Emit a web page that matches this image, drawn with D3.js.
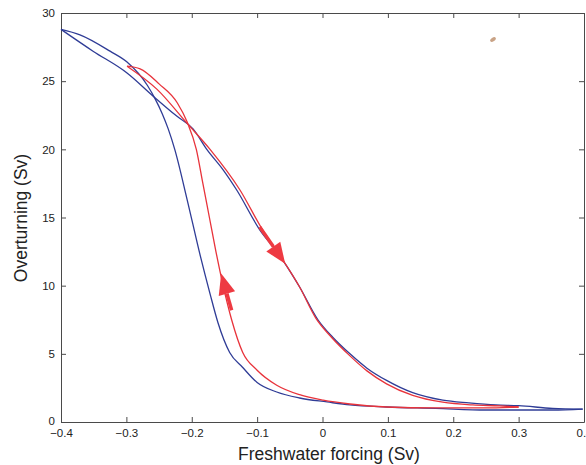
<!DOCTYPE html>
<html>
<head>
<meta charset="utf-8">
<script src="https://cdn.jsdelivr.net/npm/d3@7"></script>
<style>
  body { margin: 0; background: #fff; }
  text { font-family: "Liberation Sans", Arial, sans-serif; fill: #222; }
</style>
</head>
<body>
<div class="chart"></div>
<script>
// values
var xTicks = [-0.4, -0.3, -0.2, -0.1, 0, 0.1, 0.2, 0.3, 0.4];
var xTickLabels = ["\u22120.4", "\u22120.3", "\u22120.2", "\u22120.1", "0", "0.1", "0.2", "0.3", "0.4"];
var yTicks = [0, 5, 10, 15, 20, 25, 30];
var yTickLabels = ["0", "5", "10", "15", "20", "25", "30"];

// blue run, forcing increased (upper branch)
var blueDownX = [-0.4, -0.351, -0.299, -0.259, -0.222, -0.198, -0.177, -0.152, -0.131, -0.096, -0.07, -0.057, -0.035, -0.007, 0.016, 0.042, 0.068, 0.098, 0.138, 0.184, 0.224, 0.265, 0.3, 0.352, 0.398];
var blueDownY = [28.8, 27.2, 25.6, 23.9, 22.4, 21.5, 20.0, 18.5, 17.0, 14.1, 12.5, 11.6, 9.9, 7.5, 6.2, 5.0, 3.95, 3.05, 2.15, 1.6, 1.4, 1.25, 1.2, 1.0, 0.95];
// blue run, forcing decreased (lower branch)
var blueUpX = [0.398, 0.352, 0.3, 0.25, 0.173, 0.098, 0.042, 0.007, -0.035, -0.07, -0.1, -0.122, -0.142, -0.16, -0.172, -0.187, -0.207, -0.226, -0.236, -0.245, -0.256, -0.268, -0.299, -0.325, -0.371, -0.4];
var blueUpY = [0.95, 0.88, 0.88, 0.88, 1.0, 1.1, 1.25, 1.47, 1.76, 2.2, 2.9, 4.0, 5.1, 7.3, 9.4, 12.2, 16.3, 20.0, 21.5, 22.6, 23.7, 24.7, 26.4, 27.2, 28.4, 28.8];

// red run, forcing increased
var redDownX = [-0.299, -0.253, -0.207, -0.172, -0.126, -0.093, -0.065, -0.035, -0.01, 0.014, 0.042, 0.068, 0.098, 0.138, 0.184, 0.23, 0.271, 0.3];
var redDownY = [26.1, 24.4, 21.9, 20.0, 17.0, 14.2, 12.2, 9.9, 7.6, 6.2, 4.85, 3.75, 2.8, 1.95, 1.45, 1.25, 1.18, 1.1];
// red run, forcing decreased
var redUpX = [0.3, 0.25, 0.173, 0.098, 0.042, 0.001, -0.035, -0.07, -0.1, -0.122, -0.139, -0.152, -0.163, -0.173, -0.183, -0.193, -0.207, -0.222, -0.25, -0.279, -0.299];
var redUpY = [1.1, 1.03, 1.03, 1.1, 1.32, 1.6, 2.0, 2.7, 3.8, 5.1, 7.5, 10.0, 12.5, 15.0, 17.5, 20.0, 22.0, 23.4, 24.8, 25.9, 26.1];

// direction arrows on the red run: shaft start -> tip
var arrowFromX = [-0.096, -0.139];
var arrowFromY = [14.3, 8.2];
var arrowToX = [-0.057, -0.155];
var arrowToY = [11.6, 10.9];

var svgWidth = 586;
var svgHeight = 465;
var margin = { top: 13, right: 2, bottom: 43, left: 61 };
var width = svgWidth - margin.left - margin.right;
var height = svgHeight - margin.top - margin.bottom;

var svg = d3.select(".chart")
    .append("svg")
    .attr("width", svgWidth)
    .attr("height", svgHeight);

var chartGroup = svg.append("g")
    .attr("transform", `translate(${margin.left}, ${margin.top})`);

var xScale = d3.scaleLinear().domain([-0.4, 0.4]).range([0, width]);
var yScale = d3.scaleLinear().domain([0, 30]).range([height, 0]);

// axes, ticks pointing inward on all four sides
var bottomAxis = d3.axisBottom(xScale).tickValues(xTicks)
    .tickSizeInner(-5).tickSizeOuter(0).tickPadding(7)
    .tickFormat((d, i) => xTickLabels[i]);
var leftAxis = d3.axisLeft(yScale).tickValues(yTicks)
    .tickSizeInner(-5).tickSizeOuter(0).tickPadding(6)
    .tickFormat((d, i) => yTickLabels[i]);
var topAxis = d3.axisTop(xScale).tickValues(xTicks)
    .tickSizeInner(-5).tickSizeOuter(0).tickFormat("");
var rightAxis = d3.axisRight(yScale).tickValues(yTicks)
    .tickSizeInner(-5).tickSizeOuter(0).tickFormat("");

chartGroup.append("g").attr("transform", `translate(0, ${height})`).call(bottomAxis);
chartGroup.append("g").call(leftAxis);
chartGroup.append("g").call(topAxis);
chartGroup.append("g").attr("transform", `translate(${width}, 0)`).call(rightAxis);

chartGroup.selectAll(".domain, .tick line").attr("stroke", "#4a4a4a").attr("stroke-width", 1);
chartGroup.selectAll(".tick text")
    .style("font-size", "11.5px")
    .style("font-family", "'Liberation Sans', Arial, sans-serif")
    .attr("fill", "#222");
// the "0" of the y axis sits a little above its tick, as in the scan
chartGroup.selectAll(".tick text").filter(function () { return this.textContent === "0" && d3.select(this).attr("x") < 0; })
    .attr("dy", "0.2em");

// curves, each branch is a function of x so draw it sorted by x
var line = d3.line()
    .x(d => xScale(d[0]))
    .y(d => yScale(d[1]))
    .curve(d3.curveMonotoneX);

function pairs(xs, ys) {
    return xs.map((x, i) => [x, ys[i]]).sort((a, b) => a[0] - b[0]);
}

var blue = "#2f3c96";
var red = "#e8333b";

[[blueDownX, blueDownY, blue], [blueUpX, blueUpY, blue],
 [redDownX, redDownY, red], [redUpX, redUpY, red]].forEach(function (s) {
    chartGroup.append("path")
        .datum(pairs(s[0], s[1]))
        .attr("d", line)
        .attr("fill", "none")
        .attr("stroke", s[2])
        .attr("stroke-width", 1.3)
        .attr("stroke-linejoin", "round");
});

// arrows
arrowToX.forEach(function (tx, i) {
    var x0 = xScale(arrowFromX[i]), y0 = yScale(arrowFromY[i]);
    var x1 = xScale(tx), y1 = yScale(arrowToY[i]);
    var dx = x1 - x0, dy = y1 - y0;
    var len = Math.sqrt(dx * dx + dy * dy);
    var ux = dx / len, uy = dy / len;
    var headLen = 21, half = 8.5;
    var bx = x1 - ux * headLen, by = y1 - uy * headLen;
    chartGroup.append("line")
        .attr("x1", x0).attr("y1", y0)
        .attr("x2", bx).attr("y2", by)
        .attr("stroke", "#ee3a42")
        .attr("stroke-width", 3.5);
    chartGroup.append("path")
        .attr("d", `M${x1},${y1}L${bx - uy * half},${by + ux * half}L${bx + uy * half},${by - ux * half}Z`)
        .attr("fill", "#ee3a42");
});

// small smudge in the scan
svg.append("ellipse")
    .attr("cx", 493).attr("cy", 39.5)
    .attr("rx", 3.2).attr("ry", 1.8)
    .attr("transform", "rotate(-35, 493, 39.5)")
    .attr("fill", "#c9a386");

// axis titles
svg.append("text")
    .attr("x", 329)
    .attr("y", 460)
    .attr("text-anchor", "middle")
    .style("font-size", "17.5px")
    .text("Freshwater forcing (Sv)");

svg.append("text")
    .attr("transform", "translate(27, 218) rotate(-90)")
    .attr("text-anchor", "middle")
    .style("font-size", "17.5px")
    .text("Overturning (Sv)");
</script>
</body>
</html>
